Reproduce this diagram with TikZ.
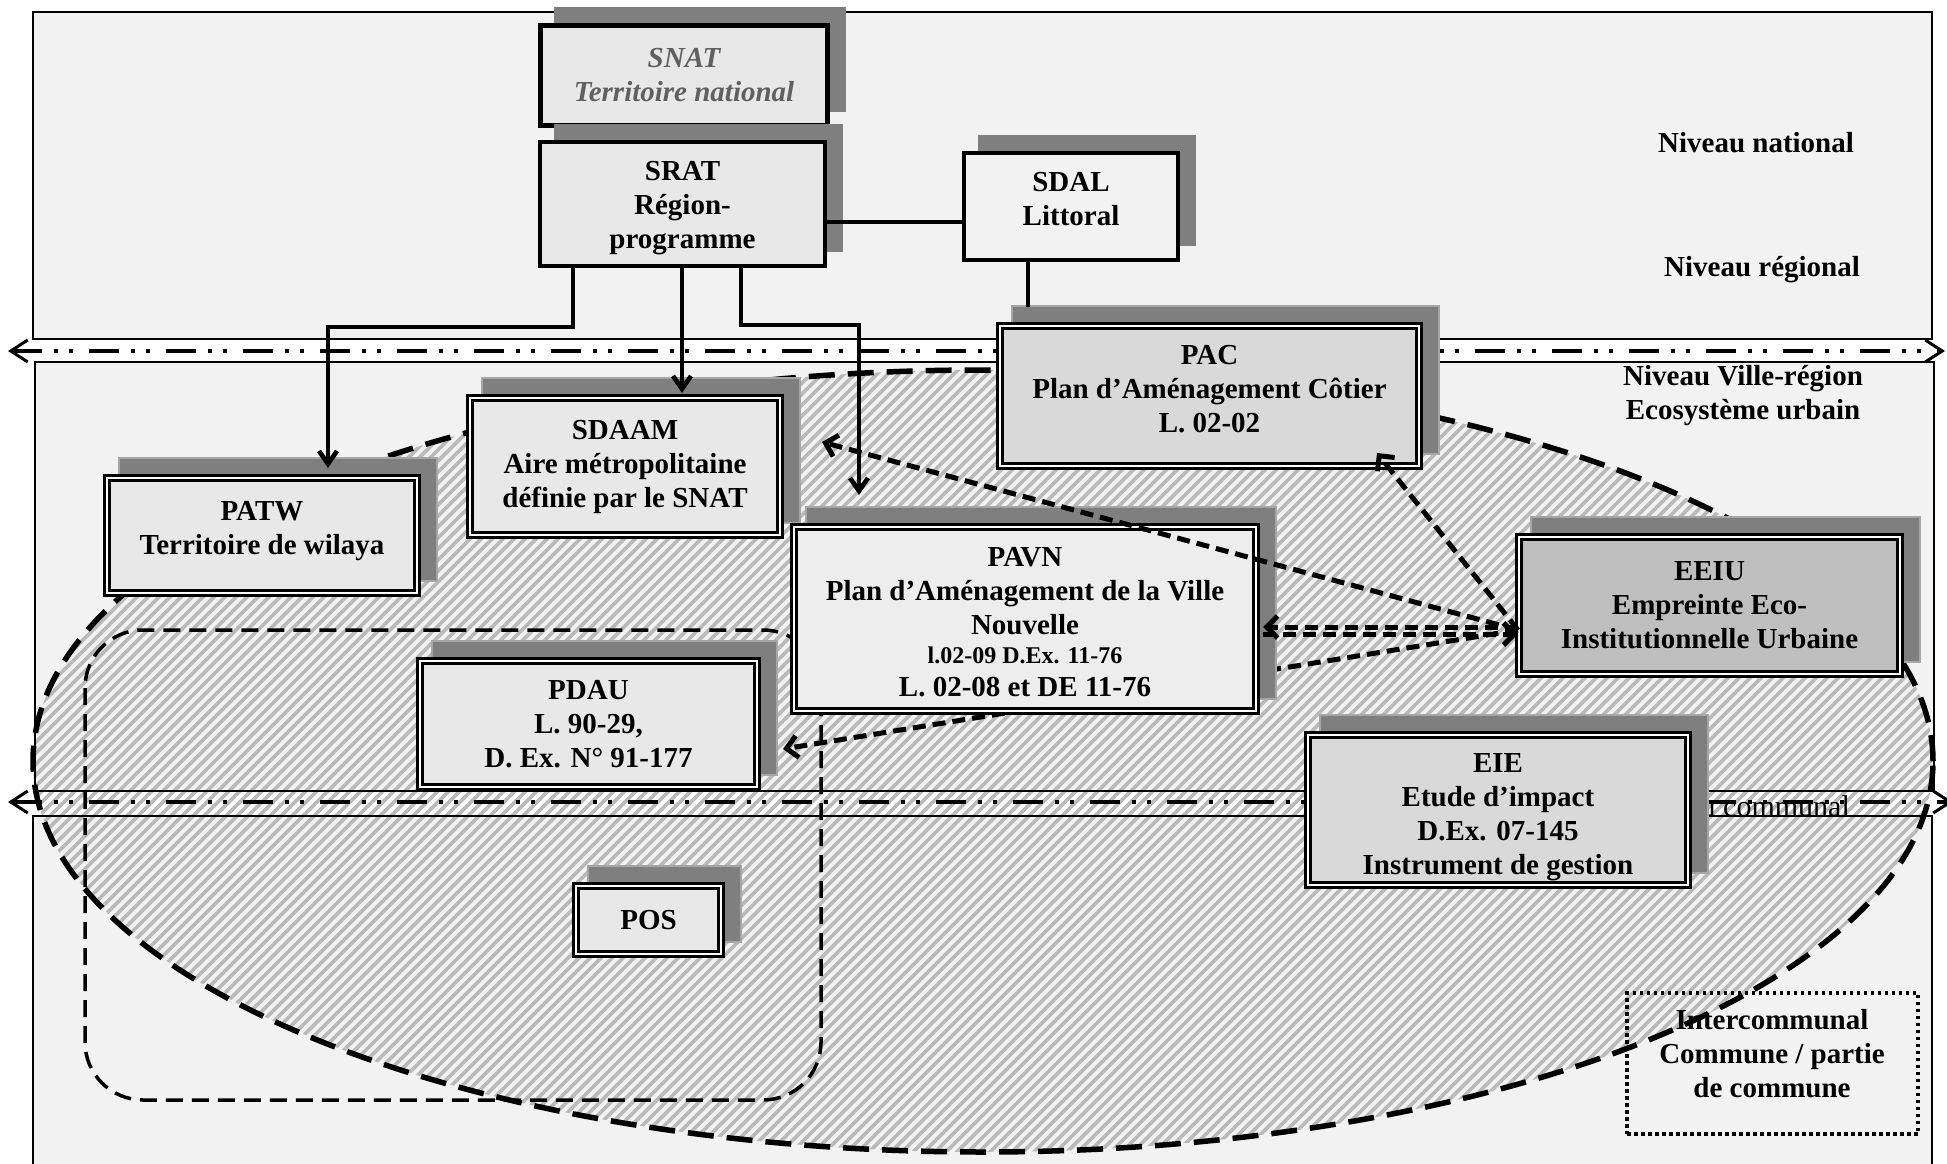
\documentclass[tikz,border=0pt]{standalone}
\usepackage{fontspec}
\setmainfont{Liberation Serif}
\usetikzlibrary{arrows.meta}

\definecolor{panel}{HTML}{F2F2F2}
\definecolor{boxA}{HTML}{E8E8E8}
\definecolor{boxB}{HTML}{D9D9D9}
\definecolor{boxC}{HTML}{BFBFBF}
\definecolor{boxD}{HTML}{EDEDED}
\definecolor{shade}{HTML}{7F7F7F}
\definecolor{shadeedge}{HTML}{A6A6A6}
\definecolor{hatchgray}{HTML}{BABABA}
\definecolor{snatgray}{HTML}{606060}

% box with a drop shadow shifted up and to the right
% #1 name, #2 x, #3 y, #4 outer width, #5 outer height, #6 border,
% #7 shadow style, #8 box style, #9 text
\newcommand\shbox[9]{%
  \pgfmathsetmacro\shw{#4-#6}%
  \pgfmathsetmacro\shh{#5-#6}%
  \path[#7] ({#2-#4/2+16},{#3-#5/2-16}) rectangle ({#2+#4/2+16},{#3+#5/2-16});
  \node[#8, minimum width=\shw pt, minimum height=\shh pt] (#1) at (#2,#3) {#9};
}
% invisible struts that move a text block up (extra depth) or down (extra height)
\newcommand\txtup[1]{\rule[-#1]{0pt}{#1}}
\newcommand\txtdown[1]{\rule{0pt}{#1}}

\begin{document}
\begin{tikzpicture}[x=1pt,y=-1pt,
  boxtext/.style={font=\fontsize{29}{34}\selectfont\bfseries, align=center,
    inner sep=0pt, outer sep=0pt},
  singlebox/.style={boxtext, draw, line width=4pt, fill=boxA},
  doublebox/.style={boxtext, draw, line width=2.7pt, double=white,
    double distance=2.4pt, fill=boxA},
  shadowS/.style={fill=shade},
  shadowD/.style={fill=shade, draw=shadeedge, line width=2pt},
  lab/.style={font=\fontsize{29}{34}\selectfont\bfseries, align=center, inner sep=0pt},
  hatchline/.style={draw=hatchgray, line width=3.7pt},
  bandline/.style={line width=4pt,
    dash pattern=on 30pt off 12pt on 4pt off 11pt on 4pt off 16pt},
  bandtips/.style={{Straight Barb[length=17pt,width=22pt,line width=3pt]}-{Straight Barb[length=17pt,width=22pt,line width=3pt]}},
  conn/.style={line width=4.6pt},
  sharp/.style={-{Straight Barb[length=13pt,width=18pt]}},
  dasharrow/.style={line width=5pt, dash pattern=on 13pt off 7pt,
    -{Straight Barb[length=11pt,width=22pt]}},
  ellipsedash/.style={line width=5.5pt, dash pattern=on 26pt off 13pt},
  zonedash/.style={line width=3.5pt, dash pattern=on 17pt off 9pt},
  dotbox/.style={draw, line width=3.5pt, dash pattern=on 3.5pt off 3.5pt,
    inner sep=0pt, outer sep=0pt}
]
\useasboundingbox (0,0) rectangle (1947,1164);

% level panels
\fill[panel] (33,12) rectangle (1932,339);
\fill[panel] (35,362) rectangle (1934,791);
\fill[panel] (33,816) rectangle (1932,1180);

% hatched urban ecosystem
\begin{scope}
  \clip (983,761) ellipse [x radius=950pt, y radius=391pt];
  \foreach \h in {-800,-789,...,1950}
    \draw[hatchline] (\h,1160) -- ++(800,-800);
\end{scope}

% panel borders
\draw[line width=2.5pt] (33,12) rectangle (1932,339);
\draw[line width=1.6pt] (35,362) rectangle (1934,791);
\draw[line width=1.6pt] (33,1180) -- (33,816) -- (1932,816) -- (1932,1180);

% level separators
\coordinate (bandL1) at (8,351);
\coordinate (bandR1) at (1945,351);
\coordinate (bandL2) at (8,802);
\coordinate (bandR2) at (1953,802);
\draw[bandline, bandtips] (bandL1) -- (bandR1);
\node[lab, font=\fontsize{30}{34}\selectfont, anchor=east] (lcom) at (1850,806) {Niveau communal};
\draw[bandline, bandtips] (bandL2) -- (bandR2);

% level labels
\node[lab] (lnat) at (1756,143) {Niveau national};
\node[lab] (lreg) at (1762,270) {Niveau régional};
\node[lab] (lvil) at (1743,396) {Niveau Ville-région\\Ecosystème urbain};

% outlines of the ecosystem and of the PDAU zone
\draw[ellipsedash] (983,761) ellipse [x radius=950pt, y radius=391pt];
\draw[zonedash, rounded corners=58pt] (85,630) rectangle (821,1100);

% intercommunal frame
\node[dotbox, minimum width=291pt, minimum height=141pt] (inter) at (1772.5,1063.5) {};
\node[lab] (intertext) at (1772,1054) {Intercommunal\\Commune / partie\\de commune};

% national and regional instruments
\shbox{snat}{684}{75.5}{292}{105}{5}{shadowS}{singlebox, line width=5pt, text=snatgray, font=\fontsize{29}{34}\selectfont\bfseries\itshape}{SNAT\\Territoire national}
\shbox{srat}{682.5}{204}{289}{128}{4}{shadowS}{singlebox}{SRAT\txtdown{27pt}\\Région-\\programme}
\shbox{sdal}{1071}{206.5}{218}{111}{4}{shadowS}{singlebox, fill=panel}{SDAL\\Littoral\txtup{15pt}}

% city-region instruments
\shbox{pac}{1209.5}{396}{427}{148}{8}{shadowD}{doublebox, fill=boxB}{PAC\\Plan d’Aménagement Côtier\\L. 02-02\txtup{15pt}}
\shbox{sdaam}{625}{466.5}{318}{145}{8}{shadowD}{doublebox}{SDAAM\\Aire métropolitaine\\définie par le SNAT}
\shbox{patw}{262}{535.5}{318}{123}{8}{shadowD}{doublebox}{PATW\\Territoire de wilaya\txtup{16pt}}
\shbox{eeiu}{1709.5}{605.5}{389}{145}{8}{shadowD}{doublebox, fill=boxC}{EEIU\\Empreinte Eco-\\Institutionnelle Urbaine}
\shbox{pdau}{588.5}{724}{345}{134}{8}{shadowD}{doublebox}{PDAU\\L. 90-29,\\D. Ex. N° 91-177}
\shbox{pos}{648.5}{920}{153}{76}{8}{shadowD}{doublebox}{POS}
\shbox{eie}{1498}{810}{388}{158}{8}{shadowD}{doublebox, fill=boxB}{EIE\txtdown{34pt}\\Etude d’impact\\D.Ex. 07-145\\Instrument de gestion}

% links from the EEIU
\coordinate (eo) at (1518,630);
\coordinate (tS) at (822,442);
\coordinate (tP) at (1377,453);
\coordinate (tV) at (1263,630);
\coordinate (tD) at (783,749);
\draw[dasharrow] (eo) -- (tD);

\shbox{pavn}{1025}{619}{470}{192}{8}{shadowD}{doublebox, fill=boxD}{PAVN\txtdown{25pt}\\Plan d’Aménagement de la Ville\\Nouvelle\\[-5pt]{\fontsize{24}{27}\selectfont l.02-09 D.Ex. 11-76}\\[-1pt]L. 02-08 et DE 11-76}

\draw[dasharrow] (eo) -- (tS);
\draw[dasharrow] (eo) -- (tP);
\draw[dasharrow] ([yshift=3pt]eo) -- ([yshift=3pt]tV);
\draw[dasharrow] ([yshift=-4pt]tV) -- ([yshift=-4pt]eo);

% hierarchy links
\coordinate (bendA) at (573,327);
\coordinate (tipA) at (328,468);
\coordinate (tipB) at (682,393);
\coordinate (bendC) at (741,325);
\coordinate (tipC) at (859,495);
\coordinate (hl) at (0,222);
\coordinate (sdalfoot) at (1028,307);
\draw[conn, sharp] (srat.south -| bendA) -- (bendA) -| (tipA);
\draw[conn, sharp] (srat.south -| tipB) -- (tipB);
\draw[conn, sharp] (srat.south -| bendC) -- (bendC) -| (tipC);
\draw[conn] (srat.east |- hl) -- (sdal.west |- hl);
\draw[conn] (sdal.south -| sdalfoot) -- (sdalfoot);
\end{tikzpicture}
\end{document}
